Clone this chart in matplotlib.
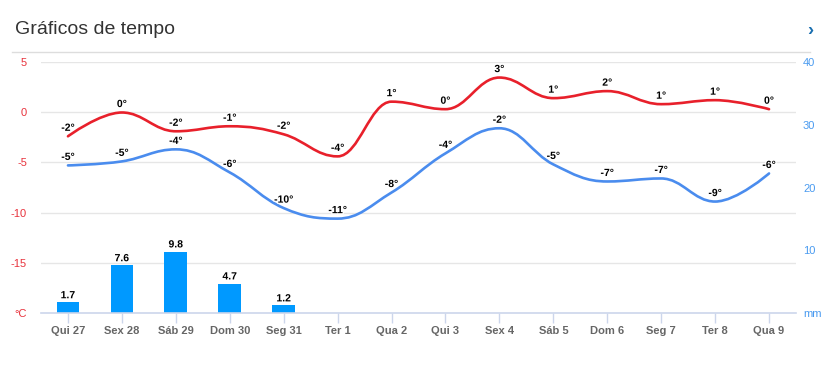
import numpy as np
import matplotlib
matplotlib.use("Agg")
import matplotlib.pyplot as plt
from matplotlib.path import Path
from matplotlib.patches import PathPatch
import matplotlib.patheffects as pe
from matplotlib.lines import Line2D
from matplotlib.transforms import blended_transform_factory

plt.rcParams['font.family'] = ['Liberation Sans', 'DejaVu Sans']

days = ["Qui 27", "Sex 28", "Sáb 29", "Dom 30", "Seg 31", "Ter 1", "Qua 2",
        "Qui 3", "Sex 4", "Sáb 5", "Dom 6", "Seg 7", "Ter 8", "Qua 9"]
tmax = [-2.4, -0.03, -1.9, -1.4, -2.2, -4.4, 1.05, 0.3, 3.45, 1.4, 2.1, 0.8, 1.2, 0.3]
tmin = [-5.3, -4.9, -3.7, -6.0, -9.55, -10.6, -8.0, -4.1, -1.6, -5.2, -6.9, -6.6, -8.9, -6.1]
precip_days = ["Qui 27", "Sex 28", "Sáb 29", "Dom 30", "Seg 31"]
precip = [1.7, 7.6, 9.8, 4.7, 1.2]
left_ticks = [-20, -15, -10, -5, 0, 5]
left_labels = ["°C", "-15", "-10", "-5", "0", "5"]
right_ticks = [0, 10, 20, 30, 40]
right_labels = ["mm", "10", "20", "30", "40"]

RED = "#e8202b"
BLUE = "#4a8cee"
BAR = "#0099ff"


def spline_path(xs, ys, smoothing=1.5):
    n = len(xs)
    denom = smoothing + 1
    lc = [None] * n
    rc = [None] * n
    for i in range(1, n - 1):
        px, py = xs[i], ys[i]
        lx, ly = xs[i - 1], ys[i - 1]
        nx, ny = xs[i + 1], ys[i + 1]
        lcx = (smoothing * px + lx) / denom
        lcy = (smoothing * py + ly) / denom
        rcx = (smoothing * px + nx) / denom
        rcy = (smoothing * py + ny) / denom
        corr = 0.0
        if rcx != lcx:
            corr = ((rcy - lcy) * (rcx - px)) / (rcx - lcx) + py - rcy
        lcy += corr
        rcy += corr
        if lcy > ly and lcy > py:
            lcy = max(ly, py)
            rcy = 2 * py - lcy
        elif lcy < ly and lcy < py:
            lcy = min(ly, py)
            rcy = 2 * py - lcy
        if rcy > ny and rcy > py:
            rcy = max(ny, py)
            lcy = 2 * py - rcy
        elif rcy < ny and rcy < py:
            rcy = min(ny, py)
            lcy = 2 * py - rcy
        lc[i] = (lcx, lcy)
        rc[i] = (rcx, rcy)
    verts = [(xs[0], ys[0])]
    codes = [Path.MOVETO]
    for i in range(1, n):
        c1 = rc[i - 1] if rc[i - 1] is not None else (xs[i - 1], ys[i - 1])
        c2 = lc[i] if lc[i] is not None else (xs[i], ys[i])
        verts += [c1, c2, (xs[i], ys[i])]
        codes += [Path.CURVE4] * 3
    return Path(verts, codes)


fig = plt.figure(figsize=(8.38, 3.77), dpi=100)
W, H = 838, 377
ax = fig.add_axes([41 / W, (H - 313) / H, 755 / W, 251 / H])
ax2 = ax.twinx()
ax.set_zorder(ax2.get_zorder() + 1)
ax.patch.set_visible(False)

x = np.arange(len(days))
ax.set_xlim(-0.5, len(days) - 0.5)
ax.set_ylim(-20, 5)
ax2.set_ylim(0, 40)

# grid (drawn on the lower axes so the bars cover it)
gtrans = blended_transform_factory(ax2.transAxes, ax.transData)
for t in left_ticks[1:]:
    ax2.add_line(Line2D([0, 1], [t, t], transform=gtrans, color="#e6e6e6", lw=1, zorder=0))

# bars
px = [days.index(d) for d in precip_days]
ax2.bar(px, precip, width=0.42, color=BAR, zorder=2)
for xi, v in zip(px, precip):
    ax2.annotate(f"{v:.1f}", (xi, v), xytext=(0, 1.5), textcoords="offset points",
                 ha="center", va="bottom", fontsize=7.5, fontweight="bold", color="black",
                 path_effects=[pe.withStroke(linewidth=2, foreground="white")])

# lines
for vals, col in [(tmax, RED), (tmin, BLUE)]:
    p = spline_path(list(x.astype(float)), vals)
    ax.add_patch(PathPatch(p, facecolor="none", edgecolor=col, lw=1.9, zorder=3,
                           capstyle="round", joinstyle="round"))
    for xi, v in zip(x, vals):
        lab = int(np.floor(v + 0.5))
        ax.annotate(f"{lab}°", (xi, v), xytext=(0, 2.5), textcoords="offset points",
                    ha="center", va="bottom", fontsize=7.5, fontweight="bold", color="black",
                    zorder=5, path_effects=[pe.withStroke(linewidth=2, foreground="white")])

# axes styling
for a in (ax, ax2):
    for s in a.spines.values():
        s.set_visible(False)
ax.axhline(-20, color="#ccd6eb", lw=1.2, zorder=4, clip_on=False)

ax.set_xticks(x)
ax.set_xticklabels(days)
ax.tick_params(axis="x", length=7, color="#ccd6eb", width=1, pad=2,
               labelsize=8, labelcolor="#666666")
for t in ax.get_xticklabels():
    t.set_fontweight("bold")

ax.set_yticks(left_ticks)
ax.set_yticklabels(left_labels)
ax.tick_params(axis="y", length=0, pad=10, labelsize=8, labelcolor="#e8323c")
ax2.set_yticks(right_ticks)
ax2.set_yticklabels(right_labels)
ax2.tick_params(axis="y", length=0, pad=5, labelsize=8, labelcolor="#4a9bf0")

# header
fig.text(15 / W, 1 - 30 / H, "Gráficos de tempo", fontsize=14, color="#333333",
         ha="left", va="center")
fig.text(810 / W, 1 - 31 / H, "›", fontsize=13, color="#1a6fb0", fontweight="bold",
         ha="center", va="center")
fig.add_artist(Line2D([12 / W, 810 / W], [1 - 52 / H, 1 - 52 / H], color="#dddddd", lw=1))

fig.savefig("out.png", dpi=100)
